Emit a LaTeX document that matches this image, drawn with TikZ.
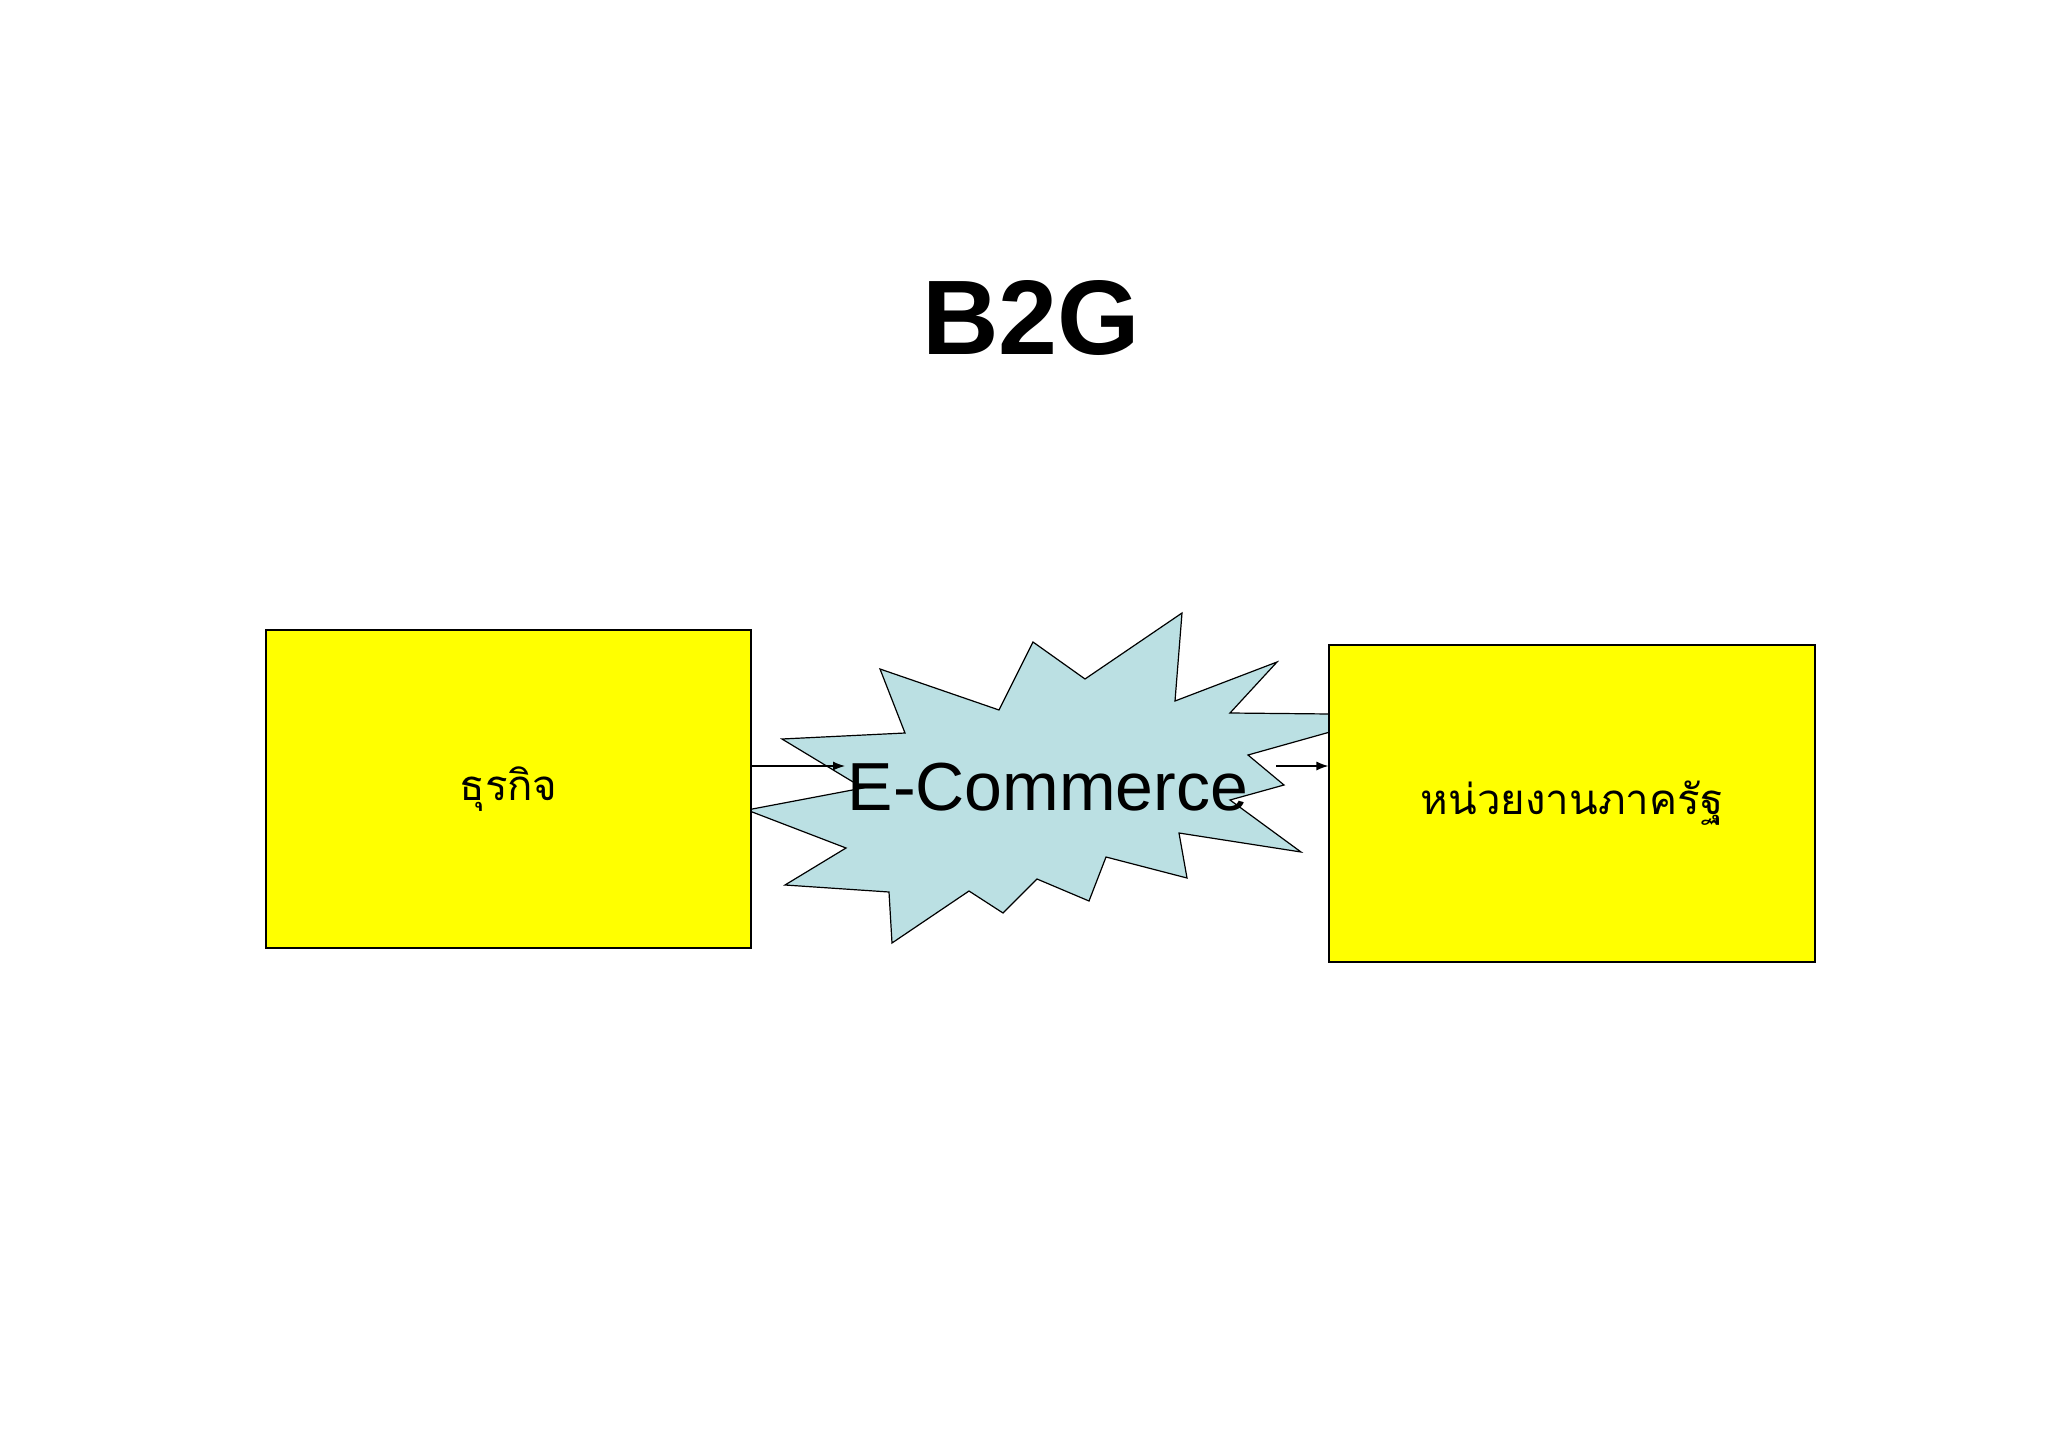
\documentclass[tikz,border=0pt]{standalone}
\usepackage{fontspec}
\setmainfont{Liberation Sans}
\newfontfamily\thaifont[Script=Thai]{Loma}
\usetikzlibrary{arrows.meta}
\begin{document}
\begin{tikzpicture}[x=1pt,y=-1pt,
  box/.style={draw=black,fill={rgb,255:red,255;green,255;blue,0},line width=1.2pt},
  conn/.style={-{Latex[length=12pt,width=9pt]},line width=1.2pt}]
\useasboundingbox (0,0) rectangle (2048,1447);
\node[font=\bfseries\fontsize{106}{120}\selectfont] (title) at (1031,318) {B2G};
\draw[fill={rgb,255:red,187;green,224;blue,227},line width=1.2pt]
 (747,810)--(863,788)--(782,739)--(905,733)--(880,669)--(999,710)--(1033,642)--(1085,679)--(1182,613)--(1175,701)--(1277,662)--(1230,713)--(1330,714)--(1357,722)--(1330,732)--(1248,755)--(1284,785)--(1230,800)--(1301,852)--(1179,833)--(1187,878)--(1106,857)--(1089,901)--(1037,879)--(1003,913)--(969,891)--(892,943)--(889,892)--(785,885)--(846,848)--cycle;
\node[box,minimum width=485,minimum height=318,inner sep=0,font=\thaifont\fontsize{42}{50}\selectfont] (biz) at (508.5,789) {ธุรกิจ};
\node[box,minimum width=486,minimum height=317,inner sep=0,font=\thaifont\fontsize{42}{50}\selectfont] (gov) at (1572,803.5) {หน่วยงานภาครัฐ};
\node[font=\fontsize{68}{74}\selectfont,inner sep=0] (ec) at (1048,787) {E-Commerce};
\coordinate (a1) at (845,766);
\coordinate (a2) at (1276,766);
\draw[conn] (biz.east |- a1) -- (a1);
\draw[conn] (a2) -- (gov.west |- a2);
\end{tikzpicture}
\end{document}
